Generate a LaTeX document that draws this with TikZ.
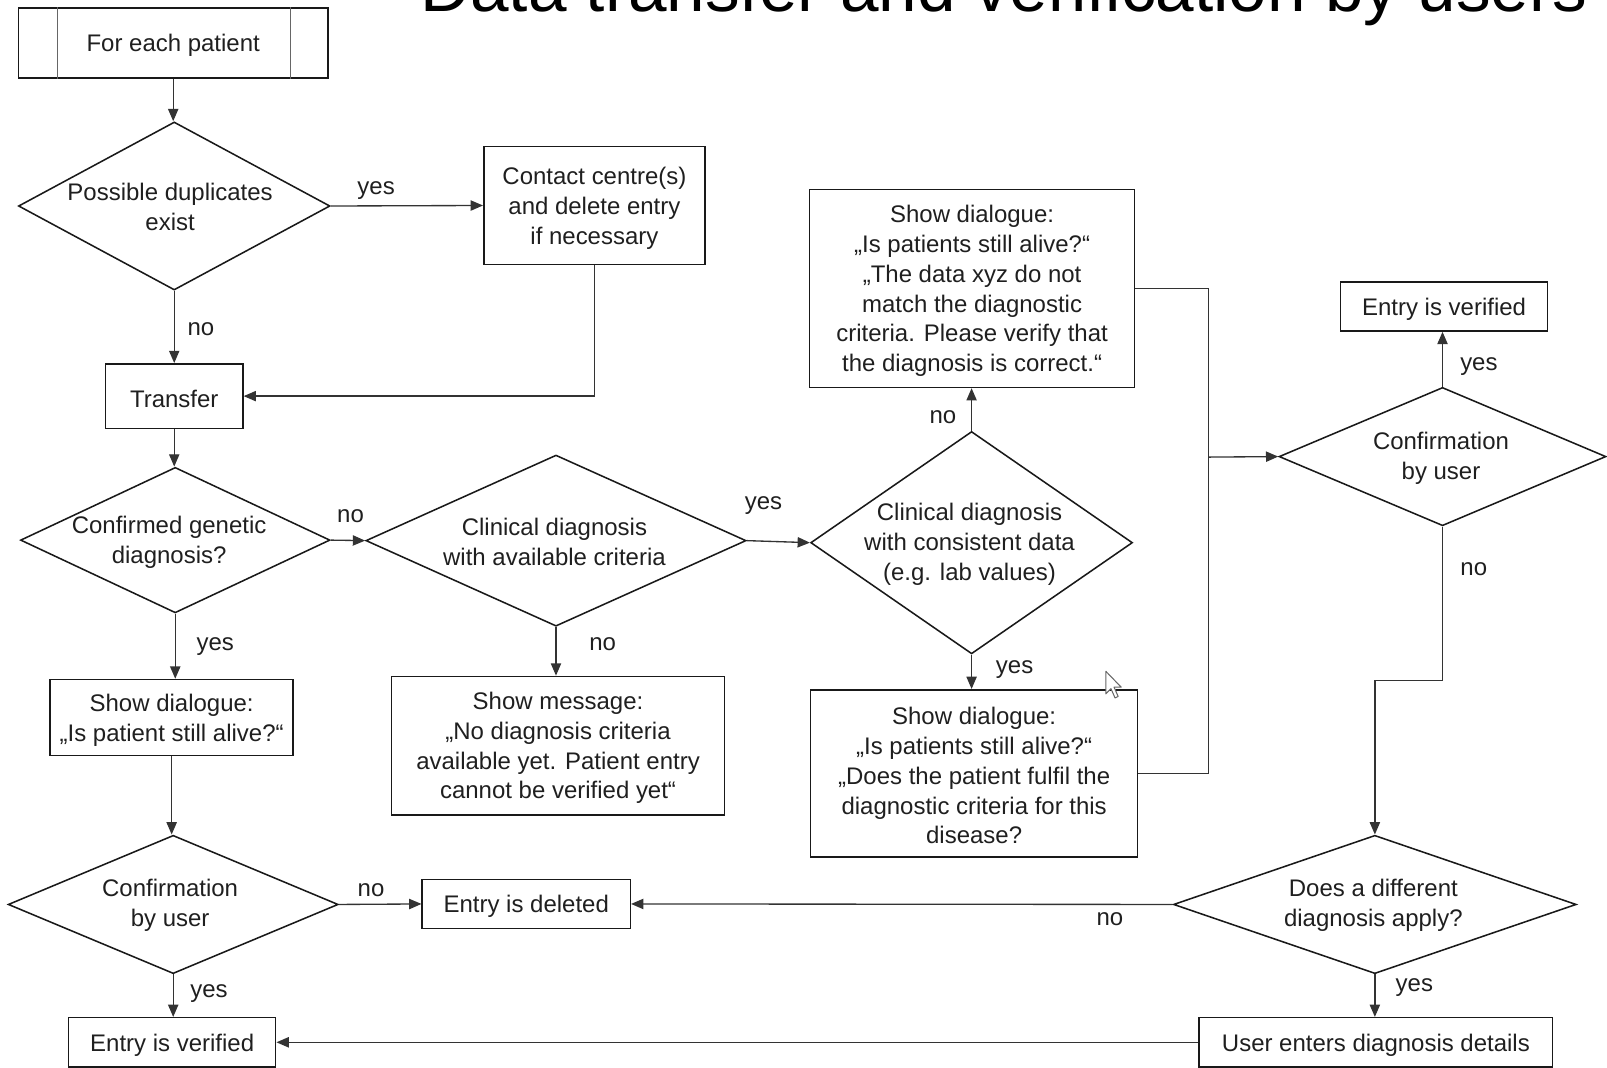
\documentclass[tikz,border=0pt]{standalone}
\usepackage{fontspec}
\setmainfont{Liberation Sans}
\usetikzlibrary{arrows.meta,shapes.geometric}
\newcommand{\topstrut}{\rule{0pt}{22pt}}
\begin{document}
\begin{tikzpicture}[x=1pt,y=-1pt,
 every node/.style={font=\fontsize{23.4}{29}\selectfont, text=black!88},
 box/.style={draw=black!90, line width=1.5pt, align=center, inner sep=0pt},
 dia/.style={draw=black!90, line width=1.5pt, diamond, inner sep=0pt},
 txt/.style={align=center, inner sep=0pt},
 lab/.style={inner sep=0pt, text height=16.8pt, text depth=4.9pt},
 conn/.style={draw=black!80, line width=1.3pt},
 arr/.style={conn, -{Triangle[length=12pt,width=10pt]}},
]
\useasboundingbox (0,0) rectangle (1568,1042);

% title (cut off at the top of the page)
\node[anchor=base west, inner sep=0pt, font=\fontsize{67.6}{80}\selectfont, text=black] (title) at (410,11) {Data transfer and verification by users};

% nodes
\node[box, minimum width=302, minimum height=68] (start) at (169,42) {\topstrut For each patient};
\draw[draw=black!60, line width=1.3pt] ([xshift=39pt]start.north west) -- ([xshift=39pt]start.south west);
\draw[draw=black!60, line width=1.3pt] ([xshift=-37pt]start.north east) -- ([xshift=-37pt]start.south east);

\node[dia, minimum width=304, minimum height=164] (d1) at (170,201) {};
\node[txt] (d1t) at (166,202) {Possible duplicates\\exist};

\node[box, minimum width=216, minimum height=115] (contact) at (580,200.5) {\topstrut Contact centre(s)\\and delete entry\\if necessary};

\node[box, minimum width=134, minimum height=63] (transfer) at (170,386.5) {\topstrut Transfer};

\node[dia, minimum width=302, minimum height=142] (d2) at (171,527) {};
\node[txt] (d2t) at (165,529) {Confirmed genetic\\diagnosis?};

\node[dia, minimum width=371, minimum height=167] (d3) at (542.5,527.5) {};
\node[txt] (d3t) at (541,529) {Clinical diagnosis\\with available criteria};

\node[dia, minimum width=314, minimum height=217] (d4) at (948,529.5) {};
\node[txt] (d4t) at (946,531) {Clinical diagnosis\\with consistent data\\(e.g. lab values)};

\node[box, minimum width=317, minimum height=193] (dlgtop) at (948.5,281.5) {\topstrut Show dialogue:\\„Is patients still alive?“\\„The data xyz do not\\match the diagnostic\\criteria. Please verify that\\the diagnosis is correct.“};

\node[box, minimum width=319, minimum height=163] (dlgbot) at (950.5,754.5) {\topstrut Show dialogue:\\„Is patients still alive?“\\„Does the patient fulfil the\\diagnostic criteria for this\\disease?};

\node[dia, minimum width=319, minimum height=135] (d5) at (1407.5,445.5) {};
\node[txt] (d5t) at (1406,447) {Confirmation\\by user};

\node[box, minimum width=202, minimum height=48] (ver1) at (1409,299) {\topstrut Entry is verified};

\node[dia, minimum width=393, minimum height=135] (d6) at (1341.5,882.5) {};
\node[txt] (d6t) at (1340,883) {Does a different\\diagnosis apply?};

\node[box, minimum width=203, minimum height=48] (del) at (513.5,882) {\topstrut Entry is deleted};
\node[box, minimum width=345, minimum height=48] (user) at (1342.5,1017) {\topstrut User enters diagnosis details};
\node[box, minimum width=202, minimum height=48] (ver2) at (168,1017) {\topstrut Entry is verified};

\node[box, minimum width=237, minimum height=74] (dlgleft) at (167.5,700) {\topstrut Show dialogue:\\„Is patient still alive?“};

\node[dia, minimum width=322, minimum height=135] (d7) at (169,882.5) {};
\node[txt] (d7t) at (166,883) {Confirmation\\by user};

\node[box, minimum width=325, minimum height=135] (msg) at (544.5,727.5) {\topstrut Show message:\\„No diagnosis criteria\\available yet. Patient entry\\cannot be verified yet“};

% connectors
\draw[arr] (start.south) -- (start.south |- d1.north);
\draw[arr] (d1.east) -- (contact.west);
\draw[arr] (contact.south) |- (transfer.east);
\draw[arr] (d1.south) -- (transfer.north);
\draw[arr] (transfer.south) -- (transfer.south |- d2.north);
\draw[arr] (d2.east) -- (d3.west);
\draw[arr] (d3.east) -- (d4.west);
\draw[arr] (d4.north) -- (d4.north |- dlgtop.south);
\draw[arr] (d4.south) -- (d4.south |- dlgbot.north);
\coordinate (join) at (1179,446);
\draw[conn] (dlgtop.east) -| (join);
\draw[conn] (dlgbot.east) -| (join);
\draw[arr] (join) -- (d5.west);
\draw[arr] (d5.north) -- (d5.north |- ver1.south);
\draw[arr] (d5.south) -- ++(0,150) -| (d6.north);
\draw[arr] (d6.west) -- (del.east);
\draw[arr] (d6.south) -- (d6.south |- user.north);
\draw[arr] (user.west) -- (ver2.east);
\draw[arr] (d2.south) -- (d2.south |- dlgleft.north);
\draw[arr] (dlgleft.south) -- (dlgleft.south |- d7.north);
\draw[arr] (d7.east) -- (del.west);
\draw[arr] (d7.south) -- (d7.south |- ver2.north);
\draw[arr] (d3.south) -- (d3.south |- msg.north);

% labels
\node[lab] (l1) at (367,184) {yes};
\node[lab] (l2) at (196,321) {no};
\node[lab] (l3) at (342,504) {no};
\node[lab] (l4) at (745,491) {yes};
\node[lab] (l5) at (920,407) {no};
\node[lab] (l6) at (990,651) {yes};
\node[lab] (l7) at (1443,356) {yes};
\node[lab] (l8) at (1438,556) {no};
\node[lab] (l9) at (1083,897) {no};
\node[lab] (l10) at (1380,961) {yes};
\node[lab] (l11) at (210,629) {yes};
\node[lab] (l12) at (588,629) {no};
\node[lab] (l13) at (362,869) {no};
\node[lab] (l14) at (204,967) {yes};

% mouse cursor
\draw[fill=white, draw=black!60, line width=1pt, line join=round] (1079,655) -- ++(0,22) -- ++(5,-5) -- ++(4,9) -- ++(3,-1.5) -- ++(-4,-9) -- ++(7,0) -- cycle;
\end{tikzpicture}
\end{document}
